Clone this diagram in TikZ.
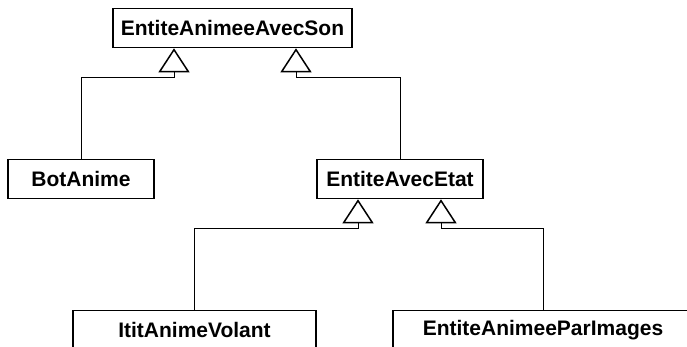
\documentclass[tikz,border=0pt]{standalone}
\usepackage{fontspec}
\setmainfont{Liberation Sans}
\usepackage{tikz}
\usetikzlibrary{arrows.meta,positioning,calc}
\tikzset{
	classbox/.style={
		draw,
		line width=1.6pt,
		minimum height=39pt,
		inner sep=0pt,
		font=\fontsize{21}{25}\selectfont\bfseries
	},
	gen/.style={
		-{Triangle[open,length=24pt,width=31pt,line width=1.5pt]},
		line width=0.8pt
	}
}

\begin{document}
\begin{tikzpicture}[x=1pt,y=-1pt]
	
	\useasboundingbox (0,0) rectangle (687,347);
	\clip (0,0) rectangle (687,347);
	
	% --- CLASSES ---
	\node[classbox, minimum width=239pt] (son) at (232.5,28) {EntiteAnimeeAvecSon};
	\node[classbox, minimum width=146pt] (bot) at (81,179) {BotAnime};
	\node[classbox, minimum width=166pt] (etat) at (400,179) {EntiteAvecEtat};
	\node[classbox, minimum width=243pt] (volant) at (194.5,330) {ItitAnimeVolant};
	\node[classbox, minimum width=300pt] (images) at (543,330) {EntiteAnimeeParImages};
	
	% --- ATTACH POINTS UNDER THE PARENTS ---
	\coordinate (sonL) at ([xshift=-58.5pt]son.south);
	\coordinate (sonR) at ([xshift=63.5pt]son.south);
	\coordinate (etatL) at ([xshift=-42pt]etat.south);
	\coordinate (etatR) at ([xshift=41pt]etat.south);
	
	% --- INHERITANCE ---
	\draw[gen] (bot.north) |- ([yshift=-29pt]sonL) -- (sonL);
	\draw[gen] (etat.north) |- ([yshift=-29pt]sonR) -- (sonR);
	\draw[gen] (volant.north) |- ([yshift=-29pt]etatL) -- (etatL);
	\draw[gen] (images.north) |- ([yshift=-29pt]etatR) -- (etatR);
	
\end{tikzpicture}
\end{document}
